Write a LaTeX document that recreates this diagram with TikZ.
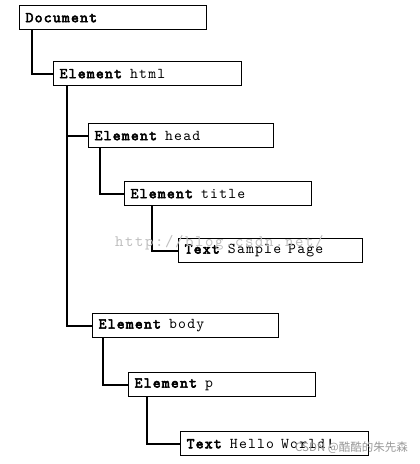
\documentclass[tikz,border=0pt]{standalone}
\usepackage{fontspec}
\setmonofont{lmmono10-regular}[Extension=.otf, LetterSpace=8,
  BoldFont=lmmono10-regular, BoldFeatures={FakeBold=3.5}]
\newfontfamily\wmmono{lmmono10-regular}[Extension=.otf, LetterSpace=10]
\newfontfamily\cjk{Noto Sans CJK SC}
\newcommand\wsp{\ \hspace{2pt}}
\begin{document}
\begin{tikzpicture}[x=1pt,y=-1pt,
  box/.style={draw=black, line width=1.3pt, rectangle, anchor=north west,
    minimum height=24pt, inner xsep=6pt, inner ysep=0pt, align=left,
    font=\fontsize{15}{16}\selectfont\ttfamily},
  link/.style={draw=black, line width=1.8pt},
  wm/.style={text=black!25}]
\useasboundingbox (0,0) rectangle (420,464);
\node[box, text width=175pt] (doc) at (19,5) {\textbf{Document}};
\node[box, text width=176pt] (html) at (53,61) {\textbf{Element}\wsp html};
\node[box, text width=173pt] (head) at (88,123) {\textbf{Element}\wsp head};
\node[box, text width=175pt] (title) at (124,181) {\textbf{Element}\wsp title};
\node[box, text width=172pt] (sample) at (178,238) {\textbf{Text}\wsp Sample\wsp Page};
\node[box, text width=174pt] (body) at (92,313) {\textbf{Element}\wsp body};
\node[box, text width=175pt] (p) at (128,372) {\textbf{Element}\wsp p};
\node[box, text width=176pt] (hello) at (180,431) {\textbf{Text}\wsp Hello\wsp World!};
\draw[link] ([xshift=13pt]doc.south west) |- (html.west);
\draw[link] ([xshift=14pt]html.south west) |- (head.west);
\draw[link] ([xshift=14pt]html.south west) |- (body.west);
\draw[link] ([xshift=12pt]head.south west) |- (title.west);
\draw[link] ([xshift=28pt]title.south west) |- (sample.west);
\draw[link] ([xshift=11pt]body.south west) |- (p.west);
\draw[link] ([xshift=19pt]p.south west) |- (hello.west);
\node[wm, font=\fontsize{16}{18}\wmmono, anchor=west, inner sep=0pt] (wm1) at (115,243) {http://blog.csdn.net/};
\node[wm, font=\fontsize{11.5}{13}\cjk, anchor=west, inner sep=0pt, text=black!40] (wm2) at (295,448) {CSDN @酷酷的朱先森};
\end{tikzpicture}
\end{document}
